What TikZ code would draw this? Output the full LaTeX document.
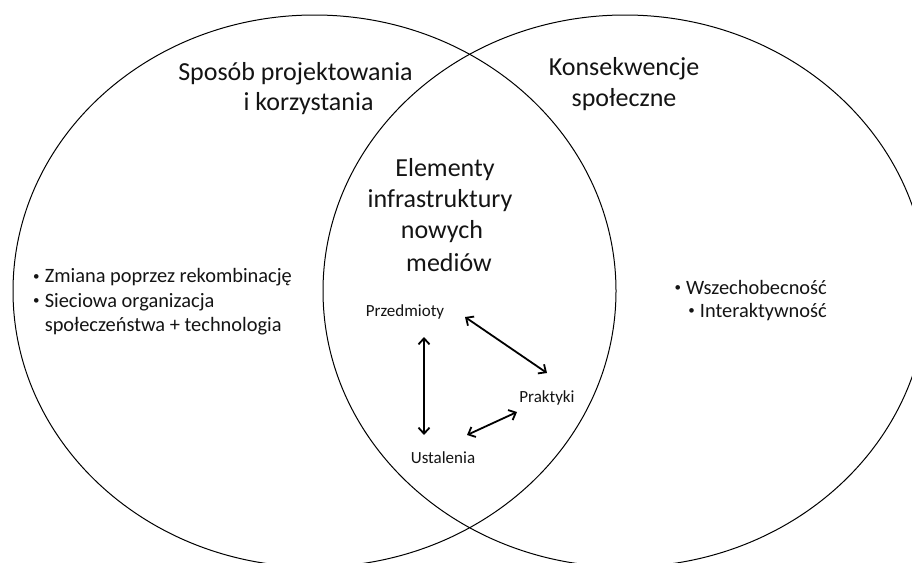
\documentclass[tikz,border=0pt]{standalone}
\usepackage{fontspec}
\setmainfont{Carlito}
\usetikzlibrary{arrows.meta}

% small raised list bullet with a narrow gap after it
\newcommand\listdot{\raisebox{0.12em}{\fontsize{13}{13}\selectfont\textbullet}\hspace{0.25em}}

\tikzset{
  setring/.style={draw=black, line width=1pt},
  heading/.style={inner sep=0pt, text=black!92, font=\fontsize{26}{31}\selectfont},
  listtext/.style={inner sep=0pt, text=black!92, align=left, font=\fontsize{20.4}{24.5}\selectfont},
  element/.style={inner sep=0pt, text=black!92, font=\fontsize{17}{20}\selectfont},
  biarrow/.style={line width=1.8pt, {Straight Barb[length=6pt,width=11pt,line width=1.8pt]}-{Straight Barb[length=6pt,width=11pt,line width=1.8pt]}}
}

\begin{document}
\begin{tikzpicture}[x=1pt, y=-1pt]
  % page frame
  \path[use as bounding box, fill=white] (0,0) rectangle (912,562);
  \begin{scope}
    \clip (0,0) rectangle (912,562);
    % the two overlapping sets
    \draw[setring] (314.5,291) ellipse [x radius=301.5pt, y radius=276pt];
    \draw[setring] (625,291) ellipse [x radius=302pt, y radius=276pt];
  \end{scope}

  % set headings
  \node[heading] (designA) at (295.5,74) {Sposób projektowania};
  \node[heading] (designB) at (308.5,104) {i korzystania};
  \node[heading] (socialA) at (624,69) {Konsekwencje};
  \node[heading] (socialB) at (624,100) {społeczne};

  % intersection heading
  \node[heading] (elemA) at (445,170) {Elementy};
  \node[heading] (elemB) at (440,201) {infrastruktury};
  \node[heading] (elemC) at (442,232) {nowych};
  \node[heading] (elemD) at (449,263) {mediów};

  % bullet lists
  \node[listtext, anchor=west] (leftlist) at (33,302)
    {\listdot Zmiana poprzez rekombinację\\
     \listdot Sieciowa organizacja\\
     \hphantom{\listdot}społeczeństwa + technologia};
  \node[listtext, anchor=east] (rightA) at (827,287) {\listdot Wszechobecność};
  \node[listtext, anchor=east] (rightB) at (827,312) {\listdot Interaktywność};

  % infrastructure elements
  \node[element] (przed) at (405,312) {Przedmioty};
  \node[element] (prakt) at (547,398) {Praktyki};
  \node[element] (ustal) at (443,458) {Ustalenia};

  % mutual relations
  \draw[biarrow] ([shift={(19,25)}]przed.center) -- ([shift={(-19,-23)}]ustal.center);
  \draw[biarrow] ([shift={(60,5)}]przed.center) -- ([shift={(0,-25)}]prakt.center);
  \draw[biarrow] ([shift={(-30,14)}]prakt.center) -- ([shift={(24,-23)}]ustal.center);
\end{tikzpicture}
\end{document}
